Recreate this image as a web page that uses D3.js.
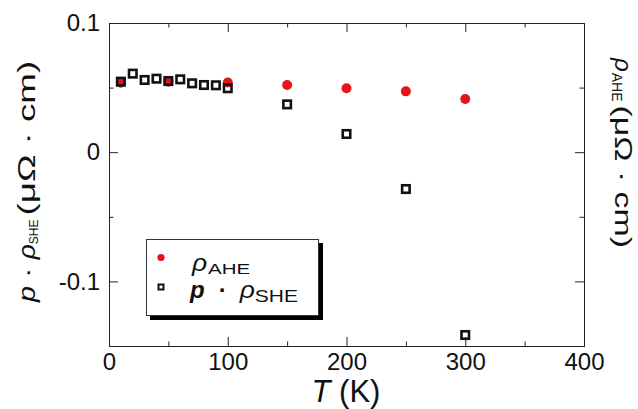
<!DOCTYPE html>
<html>
<head>
<meta charset="utf-8">
<script src="https://cdn.jsdelivr.net/npm/d3@7"></script>
<style>
  body { margin: 0; background: #fff; }
  text { font-family: "Liberation Sans", Arial, sans-serif; fill: #111; white-space: pre; }
</style>
</head>
<body>
<svg id="chart"></svg>
<script>
// values
var tempAHE = [10, 50, 100, 150, 200, 250, 300];
var rhoAHE = [0.0538, 0.0546, 0.0540, 0.0520, 0.0495, 0.0471, 0.0412];
var tempSHE = [10, 20, 30, 40, 50, 60, 70, 80, 90, 100, 150, 200, 250, 300];
var rhoSHE = [0.0546, 0.0608, 0.0559, 0.0569, 0.0551, 0.0564, 0.0533, 0.0520, 0.0518, 0.0495, 0.0370, 0.0141, -0.0285, -0.1415];
var xMajor = [0, 100, 200, 300, 400];
var xMinor = [50, 150, 250, 350];
var yMajor = [-0.1, 0, 0.1];
var yMinor = [-0.05, 0.05];

var width = 638, height = 409;
// plot box ("top" is a reserved window name, so use these)
var boxLeft = 109, boxRight = 584, boxTop = 23, boxBottom = 346;

var svg = d3.select("#chart")
  .attr("width", width)
  .attr("height", height);

var x = d3.scaleLinear().domain([0, 400]).range([boxLeft, boxRight]);
var y = d3.scaleLinear().domain([-0.15, 0.1]).range([boxBottom, boxTop]);

// lay out a label as runs of text one after another,
// each run may be italic, shifted down (subscript) or stretched wider
function runs(g, parts) {
  var pos = 0;
  parts.forEach(function(p) {
    var sx = p.sx || 1;
    pos += p.dx || 0;
    var t = g.append("text").text(p.t)
      .attr("font-size", p.size + "px")
      .attr("transform", "translate(" + pos + "," + (p.shift || 0) + ") scale(" + sx + ",1)");
    if (p.italic) t.attr("font-style", "italic");
    if (p.bold) t.attr("font-weight", "bold");
    pos += t.node().getComputedTextLength() * sx;
  });
}

function styleAxis(g) {
  g.attr("font-family", null).attr("font-size", null).style("color", "#222");
  g.select(".domain").remove();
  g.selectAll("text").attr("font-size", "24px");
}

// major ticks (inward) with labels
svg.append("g")
  .attr("transform", "translate(0," + boxBottom + ")")
  .call(d3.axisBottom(x).tickValues(xMajor).tickSize(-9).tickPadding(7).tickFormat(d3.format("d")))
  .call(styleAxis);

svg.append("g")
  .attr("transform", "translate(" + boxLeft + ",0)")
  .call(d3.axisLeft(y).tickValues(yMajor).tickSize(-9).tickPadding(9)
    .tickFormat(function(d) { return d === 0 ? "0" : String(d); }))
  .call(styleAxis);

svg.append("g")
  .attr("transform", "translate(0," + boxTop + ")")
  .call(d3.axisTop(x).tickValues(xMajor).tickSize(-9).tickFormat(""))
  .call(styleAxis);

svg.append("g")
  .attr("transform", "translate(" + boxRight + ",0)")
  .call(d3.axisRight(y).tickValues(yMajor).tickSize(-9).tickFormat(""))
  .call(styleAxis);

// minor ticks
svg.append("g")
  .attr("transform", "translate(0," + boxBottom + ")")
  .call(d3.axisBottom(x).tickValues(xMinor).tickSize(-4.5).tickFormat(""))
  .call(styleAxis);
svg.append("g")
  .attr("transform", "translate(0," + boxTop + ")")
  .call(d3.axisTop(x).tickValues(xMinor).tickSize(-4.5).tickFormat(""))
  .call(styleAxis);
svg.append("g")
  .attr("transform", "translate(" + boxLeft + ",0)")
  .call(d3.axisLeft(y).tickValues(yMinor).tickSize(-4.5).tickFormat(""))
  .call(styleAxis);
svg.append("g")
  .attr("transform", "translate(" + boxRight + ",0)")
  .call(d3.axisRight(y).tickValues(yMinor).tickSize(-4.5).tickFormat(""))
  .call(styleAxis);

// frame
svg.append("rect")
  .attr("x", boxLeft + 0.5)
  .attr("y", boxTop + 0.5)
  .attr("width", boxRight - boxLeft)
  .attr("height", boxBottom - boxTop)
  .attr("fill", "none")
  .attr("stroke", "#222")
  .attr("stroke-width", 1);

// axis titles
svg.append("text")
  .attr("x", 346)
  .attr("y", 402)
  .attr("text-anchor", "middle")
  .attr("font-size", "31px")
  .html('<tspan font-style="italic">T</tspan> (K)');

var yTitle = svg.append("g").attr("transform", "translate(35,302) rotate(-90)");
runs(yTitle, [
  {t: "p", size: 24, italic: true, sx: 1.2},
  {t: " · ", size: 24, sx: 1.25},
  {t: "ρ", size: 24, italic: true, sx: 1.1},
  {t: "SHE", size: 12, shift: 3},
  {t: "(μΩ · cm)", size: 24.5, sx: 1.5, dx: 4}
]);

var y2Title = svg.append("g").attr("transform", "translate(615,58) rotate(90)");
runs(y2Title, [
  {t: "ρ", size: 24, italic: true},
  {t: "AHE", size: 14, shift: 3, dx: 1},
  {t: "(μΩ · cm)", size: 24.5, sx: 1.38, dx: 4}
]);

// data
var ahe = tempAHE.map(function(t, i) { return {T: t, v: rhoAHE[i]}; });
var she = tempSHE.map(function(t, i) { return {T: t, v: rhoSHE[i]}; });

svg.selectAll(".ahe")
  .data(ahe)
  .enter()
  .append("circle")
  .attr("class", "ahe")
  .attr("cx", function(d) { return x(d.T); })
  .attr("cy", function(d) { return y(d.v); })
  .attr("r", 5)
  .attr("fill", "#e5141b");

var sq = 7.5;
svg.selectAll(".she")
  .data(she)
  .enter()
  .append("rect")
  .attr("class", "she")
  .attr("x", function(d) { return x(d.T) - sq / 2; })
  .attr("y", function(d) { return y(d.v) - sq / 2; })
  .attr("width", sq)
  .attr("height", sq)
  .attr("fill", "none")
  .attr("stroke", "#111")
  .attr("stroke-width", 2.6);

// legend
var legend = svg.append("g");
legend.append("rect")
  .attr("x", 150).attr("y", 243)
  .attr("width", 173).attr("height", 77)
  .attr("fill", "#000");
legend.append("rect")
  .attr("x", 146.5).attr("y", 239.5)
  .attr("width", 172).attr("height", 76)
  .attr("fill", "#fff")
  .attr("stroke", "#333");

legend.append("circle")
  .attr("cx", 161).attr("cy", 257.5)
  .attr("r", 3.6)
  .attr("fill", "#e5141b");
legend.append("rect")
  .attr("x", 158.5).attr("y", 284.5)
  .attr("width", 5).attr("height", 5)
  .attr("fill", "none")
  .attr("stroke", "#111")
  .attr("stroke-width", 2);

var row1 = legend.append("g").attr("transform", "translate(192,271)");
runs(row1, [
  {t: "ρ", size: 24, italic: true, sx: 1.1},
  {t: "AHE", size: 15.4, sx: 1.33, shift: 3, dx: 1}
]);
var row2 = legend.append("g").attr("transform", "translate(190,298)");
runs(row2, [
  {t: "p", size: 24, italic: true, bold: true},
  {t: "·", size: 24, bold: true, dx: 14},
  {t: "ρ", size: 24, italic: true, sx: 1.1, dx: 13},
  {t: "SHE", size: 16.8, sx: 1.25, shift: 4}
]);
</script>
</body>
</html>
